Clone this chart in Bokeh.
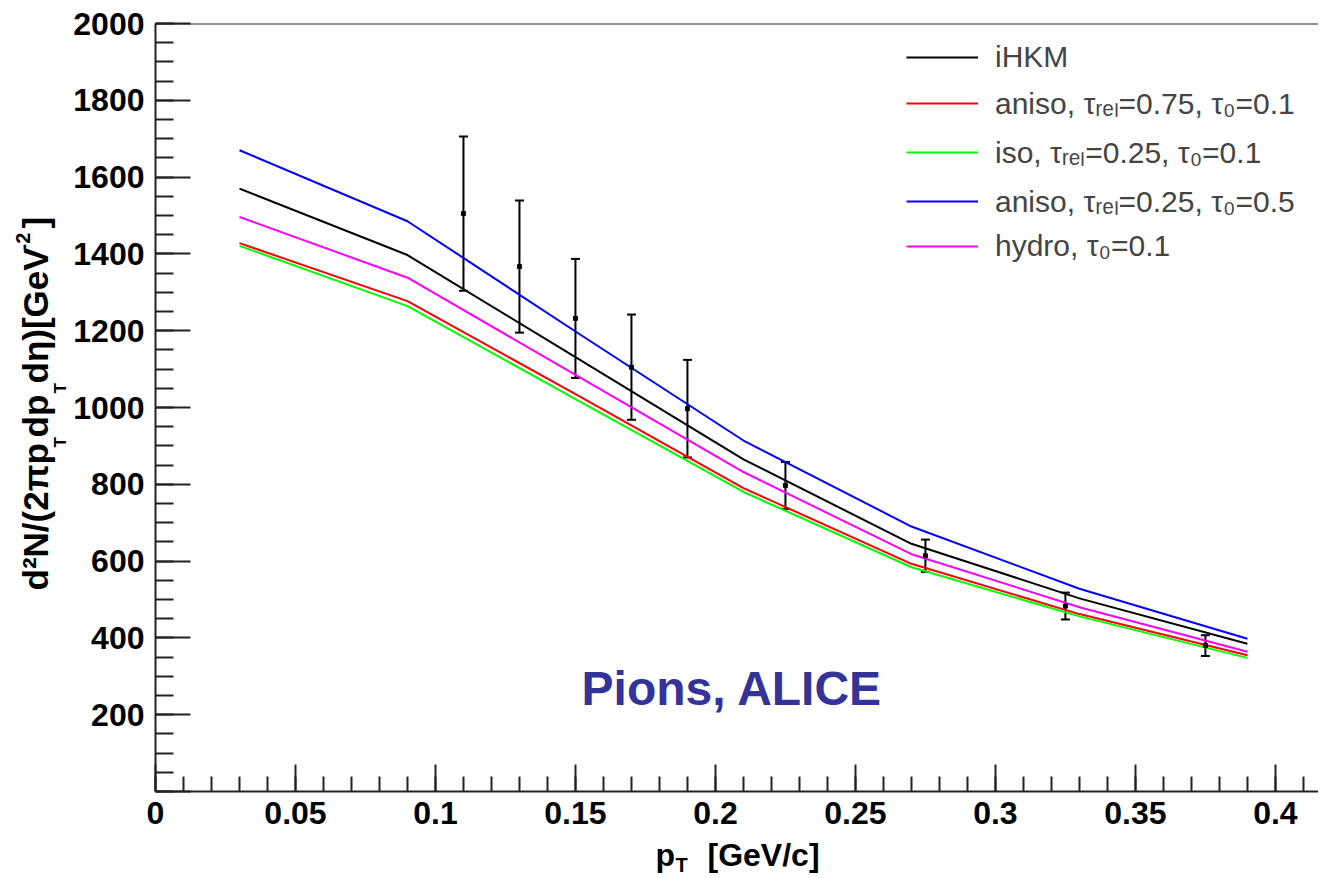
import math
from bokeh.plotting import figure
from bokeh.layouts import row, column
from bokeh.models import (Range1d, SingleIntervalTicker, CustomJSTickFormatter, Label,
                          Legend, LegendItem, Whisker, TeeHead, ColumnDataSource, Span)
from bokeh.core.properties import value
from bokeh.embed import file_html
from bokeh.resources import INLINE

# ---------------- data ----------------
pt_model = [0.03, 0.09, 0.15, 0.21, 0.27, 0.33, 0.39]
ihkm = [1570, 1397, 1131, 865, 645, 503, 385]
aniso_075_01 = [1428, 1277, 1035, 790, 593, 462, 355]
iso_025_01 = [1421, 1264, 1022, 780, 584, 456, 348]
aniso_025_05 = [1670, 1485, 1198, 914, 690, 528, 398]
hydro_01 = [1496, 1338, 1085, 832, 618, 480, 364]

pt_alice = [0.11, 0.13, 0.15, 0.17, 0.19, 0.225, 0.275, 0.325, 0.375]
alice = [1505, 1367, 1232, 1105, 997, 797, 614, 483, 380]
alice_err = [201, 172, 155, 137, 127, 61, 42, 35, 27]

series_labels = ["iHKM",
                 "aniso, τᵣₑₗ=0.75, τ₀=0.1",
                 "iso, τᵣₑₗ=0.25, τ₀=0.1",
                 "aniso, τᵣₑₗ=0.25, τ₀=0.5",
                 "hydro, τ₀=0.1"]
series_values = [ihkm, aniso_075_01, iso_025_01, aniso_025_05, hydro_01]
series_colors = ["#000000", "#ff0000", "#00ff00", "#0000ff", "#ff00ff"]

annotation_text = "Pions, ALICE"
x_title_parts = ["p", "T", "[GeV/c]"]
y_title_parts = ["d²N/(2πp", "T", "dp", "T", "dη)[GeV", "-2", "]"]

FONT = "Liberation Sans"
MID_SHIFT = 0.34   # distance (em) from the middle of the text box down to its baseline

# ---------------- layout sizes ----------------
LW = 70            # width of the y-title strip
MW, MH = 1248, 838 # main figure
BL, BT, BR, BB = 85, 23, 0, 47
TOT_W = LW + MW
XH = 38            # height of the x-title strip
PAGE_H = MH + XH


def blank(width, height, xr, yr, top=0, bottom=0):
    f = figure(width=width, height=height, output_backend="svg", toolbar_location=None,
               x_range=Range1d(*xr), y_range=Range1d(*yr),
               x_axis_location=None, y_axis_location=None,
               min_border_left=0, min_border_right=0,
               min_border_top=top, min_border_bottom=bottom)
    try:
        f.title = None
    except Exception:
        f.title.visible = False
    f.outline_line_color = None
    f.grid.visible = False
    f.background_fill_color = "white"
    f.border_fill_color = "white"
    return f

# ---------------- main figure ----------------
p = figure(width=MW, height=MH, output_backend="svg", toolbar_location=None,
           x_range=Range1d(0, 0.4154), y_range=Range1d(0, 2000),
           min_border_left=BL, min_border_top=BT, min_border_right=BR, min_border_bottom=BB)
try:
    p.title = None
except Exception:
    p.title.visible = False
p.outline_line_color = None
p.grid.visible = False
p.background_fill_color = "white"
p.border_fill_color = "white"

p.xaxis.ticker = SingleIntervalTicker(interval=0.05, num_minor_ticks=5)
p.yaxis.ticker = SingleIntervalTicker(interval=200, num_minor_ticks=4)
p.xaxis.formatter = CustomJSTickFormatter(code="return String(parseFloat(tick.toFixed(3)));")
p.yaxis.formatter = CustomJSTickFormatter(code="return tick == 0 ? '' : String(Math.round(tick));")

for ax in (p.xaxis, p.yaxis):
    ax.axis_line_width = 2
    ax.axis_line_color = "#222222"
    ax.major_tick_line_width = 2
    ax.minor_tick_line_width = 2
    ax.major_tick_line_color = "#222222"
    ax.minor_tick_line_color = "#222222"
    ax.major_tick_out = 0
    ax.minor_tick_out = 0
    ax.major_label_text_font = FONT
    ax.major_label_text_font_style = "bold"
    ax.major_label_text_font_size = "32px"
    ax.major_label_text_color = "#000000"

p.xaxis.major_tick_in = 27
p.xaxis.minor_tick_in = 15
p.yaxis.major_tick_in = 35
p.yaxis.minor_tick_in = 18
p.xaxis.major_label_standoff = 10
p.yaxis.major_label_standoff = 11

# top frame line
p.add_layout(Span(location=2000, dimension="width", line_color="#222222", line_width=2))

# model curves
items = []
for lab, vals, col in zip(series_labels, series_values, series_colors):
    r = p.line(pt_model, vals, line_color=col, line_width=2)
    items.append(LegendItem(label=lab, renderers=[r]))

# ALICE data with error bars
src = ColumnDataSource(dict(x=pt_alice, y=alice,
                            upper=[v + e for v, e in zip(alice, alice_err)],
                            lower=[v - e for v, e in zip(alice, alice_err)]))
p.add_layout(Whisker(source=src, base="x", upper="upper", lower="lower",
                     line_width=2, line_color="black",
                     upper_head=TeeHead(size=9, line_width=2, line_color="black"),
                     lower_head=TeeHead(size=9, line_width=2, line_color="black")))
p.scatter("x", "y", source=src, marker="square", size=4, color="black")

# legend
legend = Legend(items=items, location=(751, 528), padding=0, margin=0, spacing=8,
                glyph_width=72, glyph_height=20, label_height=20, label_standoff=17,
                label_text_font=FONT, label_text_font_size="30px",
                border_line_alpha=0, background_fill_alpha=0)
p.add_layout(legend)

# annotation
p.add_layout(Label(x=0.206, y=268, text=annotation_text,
                   text_align="center", text_baseline="middle",
                   text_font=FONT, text_font_style="bold",
                   text_font_size="48px", text_color="#333399"))

# ---------------- y title strip (rotated, rich text from pieces) ----------------
# its frame spans the same page rows as the main frame (page y 23..791)
yt = blank(LW, MH, (0, LW), (BB, MH - BT), top=BT, bottom=BB)
# page-y where each piece starts, baseline page-x, font px
y_piece_start = [590, 447, 437, 393, 383, 250, 228]
y_piece_base = [47, 66, 47, 66, 47, 29, 47]
y_piece_size = [35, 17, 35, 17, 35, 20, 35]
for txt, st, bx, fs in zip(y_title_parts, y_piece_start, y_piece_base, y_piece_size):
    yt.text(x=[bx - MID_SHIFT * fs], y=[MH - st], text=[txt], angle=math.pi / 2,
            text_align="left", text_baseline="middle", text_font=value(FONT),
            text_font_style="bold", text_font_size=value(f"{fs}px"), text_color="black")

# ---------------- x title strip ----------------
xtf = blank(TOT_W, XH, (0, TOT_W), (0, XH))
x_piece_start = [655, 675, 707]
x_piece_base = [865, 871, 865]
x_piece_size = [32, 20, 32]
for txt, sx, by, fs in zip(x_title_parts, x_piece_start, x_piece_base, x_piece_size):
    xtf.text(x=[sx], y=[PAGE_H - (by - MID_SHIFT * fs)], text=[txt], text_align="left",
             text_baseline="middle", text_font=value(FONT), text_font_style="bold",
             text_font_size=value(f"{fs}px"), text_color="black")

layout = column(row(yt, p, spacing=0), xtf, spacing=0)
open("out.html", "w").write(file_html(layout, INLINE))
